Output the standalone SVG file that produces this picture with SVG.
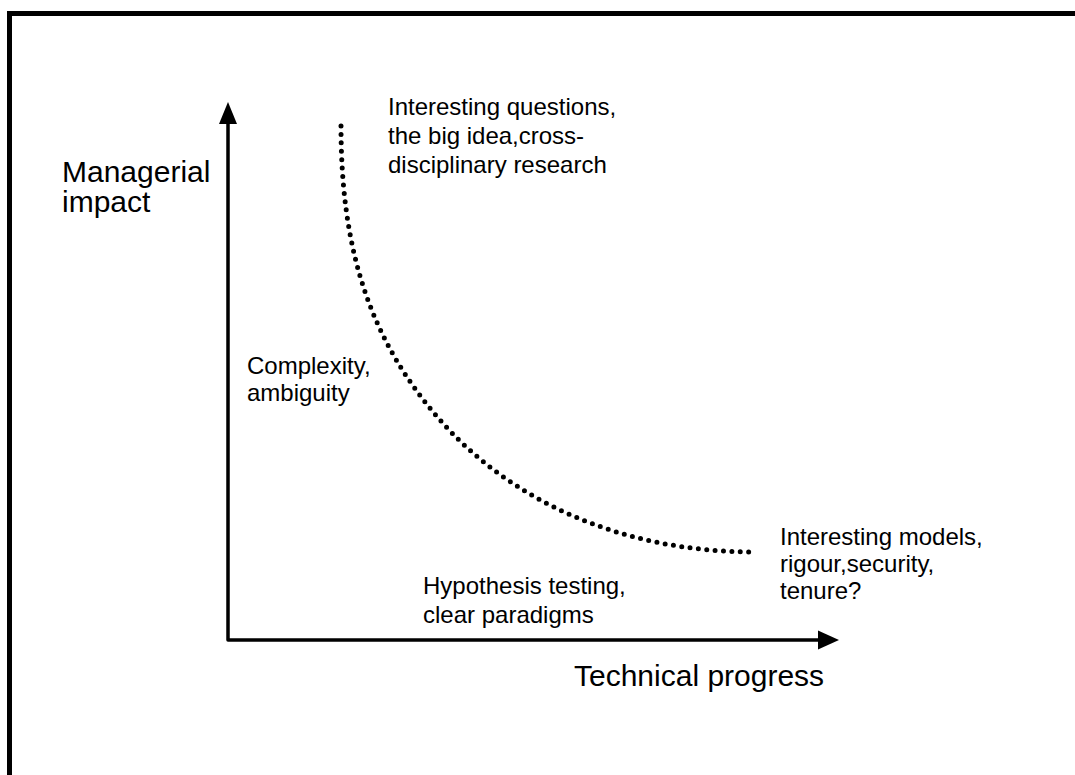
<svg xmlns="http://www.w3.org/2000/svg" width="1075" height="775" viewBox="0 0 1075 775">
  <style>
    .lbl { font-family: "Liberation Sans", Arial, sans-serif; fill: #000; }
    .big { font-size: 30px; }
    .small { font-size: 24px; }
    .axis { fill: none; stroke: #000; stroke-width: 3.5; stroke-linejoin: round; }
    .frame { fill: none; stroke: #000; stroke-width: 5; }
    .curve { fill: none; stroke: #000; stroke-width: 5; stroke-linecap: round; stroke-dasharray: 0 8.4; }
    .head { fill: #000; }
  </style>
  <rect width="1075" height="775" fill="#fff"/>
  <g id="frame">
    <path class="frame" d="M9.5,775 L9.5,13.5 L1075,13.5"/>
  </g>
  <g id="connectors">
    <path class="axis" d="M228,120 L228,640 L822,640"/>
    <path class="head" d="M228,102 L219,124 L237,124 Z"/>
    <path class="head" d="M839,640 L818,630.5 L818,649.5 Z"/>
    <path class="curve" d="M341,126 C341,250 370,340 440,420 C510,500 620,552 755,552"/>
  </g>
  <g id="y-label">
    <text class="lbl big" x="62" y="182">Managerial</text>
    <text class="lbl big" x="62" y="212">impact</text>
  </g>
  <g id="x-label">
    <text class="lbl big" x="574" y="686">Technical progress</text>
  </g>
  <g id="top-label">
    <text class="lbl small" x="388" y="115">Interesting questions,</text>
    <text class="lbl small" x="388" y="144">the big idea,cross-</text>
    <text class="lbl small" x="388" y="173">disciplinary research</text>
  </g>
  <g id="mid-label">
    <text class="lbl small" x="247" y="374">Complexity,</text>
    <text class="lbl small" x="247" y="401">ambiguity</text>
  </g>
  <g id="bottom-label">
    <text class="lbl small" x="423" y="594">Hypothesis testing,</text>
    <text class="lbl small" x="423" y="623">clear paradigms</text>
  </g>
  <g id="right-label">
    <text class="lbl small" x="780" y="545">Interesting models,</text>
    <text class="lbl small" x="780" y="572">rigour,security,</text>
    <text class="lbl small" x="780" y="599">tenure?</text>
  </g>
</svg>
